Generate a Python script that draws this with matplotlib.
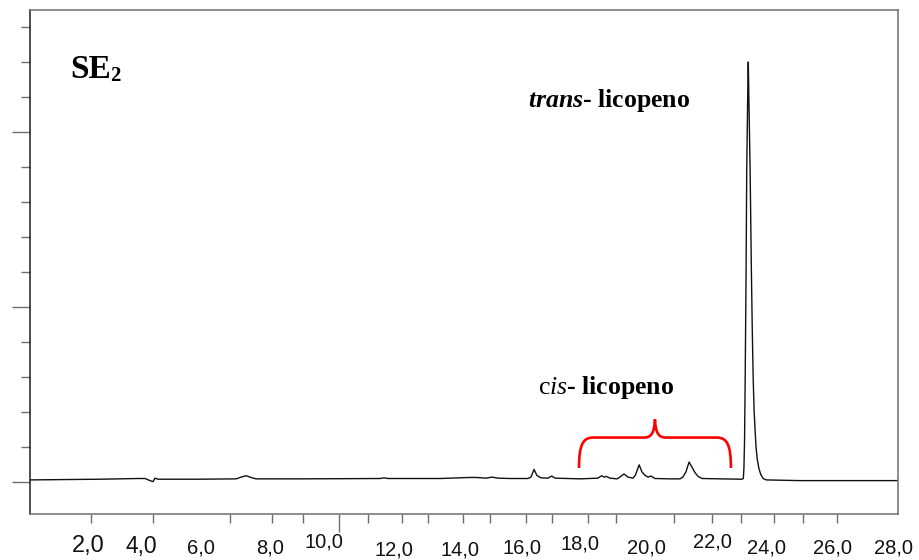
import matplotlib
matplotlib.use("Agg")
import matplotlib.pyplot as plt
from matplotlib.path import Path
from matplotlib.patches import PathPatch

plt.rcParams["mathtext.fontset"] = "custom"
plt.rcParams["mathtext.rm"] = "Liberation Serif"
plt.rcParams["mathtext.it"] = "Liberation Serif:italic"
plt.rcParams["mathtext.bf"] = "Liberation Serif:bold"
plt.rcParams["mathtext.bfit"] = "Liberation Serif:italic:bold"

# HPLC trace of extract SE2: retention time (min) and detector response
time_min = [
    0.00, 2.26, 3.48, 3.71, 3.87, 3.97, 4.03, 4.13, 5.48, 6.65, 6.81, 6.97,
    7.13, 7.29, 8.71, 11.29, 11.42, 11.55, 13.23, 14.19, 14.39, 14.71, 14.90,
    15.10, 15.48, 16.06, 16.16, 16.26, 16.35, 16.48, 16.71, 16.83, 16.94,
    17.74, 18.32, 18.44, 18.52, 18.60, 18.71, 18.94, 19.06, 19.16, 19.29,
    19.45, 19.53, 19.65, 19.74, 19.84, 19.94, 20.03, 20.16, 20.65, 20.97,
    21.06, 21.16, 21.26, 21.35, 21.45, 21.55, 21.68, 22.26, 22.97, 23.01,
    23.03, 23.05, 23.07, 23.10, 23.12, 23.15, 23.16, 23.17, 23.18, 23.19,
    23.23, 23.27, 23.30, 23.33, 23.36, 23.39, 23.42, 23.46, 23.51, 23.57,
    23.65, 23.75, 24.84, 28.00,
]
signal = [
    0.06, 0.08, 0.10, 0.10, 0.04, 0.01, 0.11, 0.08, 0.08, 0.09, 0.14, 0.18,
    0.13, 0.09, 0.09, 0.10, 0.12, 0.10, 0.10, 0.13, 0.13, 0.11, 0.14,
    0.11, 0.10, 0.10, 0.14, 0.36, 0.19, 0.12, 0.11, 0.17, 0.11,
    0.09, 0.11, 0.18, 0.14, 0.16, 0.11, 0.09, 0.16, 0.23, 0.14,
    0.11, 0.20, 0.49, 0.29, 0.19, 0.14, 0.17, 0.10, 0.09, 0.09,
    0.14, 0.29, 0.57, 0.43, 0.27, 0.16, 0.10, 0.09, 0.08, 0.10,
    0.40, 1.20, 2.91, 6.06, 8.91, 10.91, 11.49, 12.00, 11.49, 10.91,
    8.91, 6.06, 4.30, 2.91, 2.00, 1.49, 1.00, 0.65, 0.40, 0.22,
    0.10, 0.06, 0.04, 0.04,
]

# Axis ticks
tick_minutes = [1.97, 3.97, 6.45, 7.81, 8.81, 10.90, 12.0, 12.84, 13.97,
                14.84, 16.0, 16.84, 18.0, 18.90, 20.77, 22.0, 22.94, 24.0,
                24.94, 26.03]
major_tick_minutes = [9.97]
tick_labels = ["2,0", "4,0", "6,0", "8,0", "10,0", "12,0", "14,0", "16,0",
               "18,0", "20,0", "22,0", "24,0", "26,0", "28,0"]
y_minor = [1, 2, 3, 4, 6, 7, 8, 9, 11, 12, 13]
y_major = [0, 5, 10]

# Placement of the time labels under the axis
label_minutes = [1.87, 3.58, 5.52, 7.74, 9.48, 11.74, 13.87, 15.87, 17.74,
                 19.90, 22.00, 23.77, 25.90, 27.84]
label_drop_px = [38, 39, 39, 39, 33, 41, 41, 39, 36, 39, 34, 39, 39, 39]
label_size = [17, 16.5, 14.5, 14.5, 14.5, 14.5, 14.5, 14.5, 14.5, 14.5,
              14.5, 14.5, 14.5, 14.5]

fig = plt.figure(figsize=(9.2, 5.6), dpi=100)
ax = fig.add_axes([30 / 920, 46 / 560, 868 / 920, 504 / 560])

ax.plot(time_min, signal, color="#111111", lw=1.0, solid_joinstyle="round")

ax.set_xlim(0, 28)
ax.set_ylim(-0.914, 13.486)

ax.set_xticks(major_tick_minutes)
ax.set_xticks(tick_minutes, minor=True)
ax.set_yticks(y_major)
ax.set_yticks(y_minor, minor=True)
ax.tick_params(which="both", labelbottom=False, labelleft=False,
               color="#6e6e6e", width=1.0, direction="out")
ax.tick_params(which="major", length=13)
ax.tick_params(which="minor", length=6.5)

for side, spine in ax.spines.items():
    spine.set_linewidth(1.1)
    spine.set_color("#1e1e1e" if side == "left" else "#6e6e6e")

for lab, t, drop, size in zip(tick_labels, label_minutes, label_drop_px,
                              label_size):
    ax.annotate(lab, xy=(t, 0), xycoords=("data", "axes fraction"),
                xytext=(0, -drop), textcoords="offset pixels",
                ha="center", va="baseline", fontsize=size,
                family="Liberation Sans", color="#111111",
                annotation_clip=False)

# Sample name with subscript
ax.text(1.29, 11.54, "SE", fontsize=24, fontweight="bold",
        family="Liberation Serif", ha="left", va="baseline")
ax.text(2.58, 11.46, "2", fontsize=15, fontweight="bold",
        family="Liberation Serif", ha="left", va="baseline")

# Peak annotations
ax.text(16.06, 10.72, r"$\mathbfit{trans}$- licopeno", fontsize=18.5,
        fontweight="bold", family="Liberation Serif", ha="left",
        va="baseline")
ax.text(16.39, 2.51, r"$\mathrm{c}\mathit{is}$- licopeno", fontsize=18.5,
        fontweight="bold", family="Liberation Serif", ha="left",
        va="baseline")

# Curly brace grouping the cis isomer peaks
x0, x1 = 17.71, 22.61
xm = (x0 + x1) / 2
y_foot, y_bar, y_tip = 0.40, 1.27, 1.79
verts = [
    (x0, y_foot), (x0, 1.05), (x0 + 0.12, y_bar), (x0 + 0.45, y_bar),
    (xm - 0.35, y_bar),
    (xm - 0.12, y_bar), (xm - 0.02, 1.40), (xm, y_tip),
    (xm + 0.02, 1.40), (xm + 0.12, y_bar), (xm + 0.35, y_bar),
    (x1 - 0.45, y_bar),
    (x1 - 0.12, y_bar), (x1, 1.05), (x1, y_foot),
]
codes = [Path.MOVETO, Path.CURVE4, Path.CURVE4, Path.CURVE4,
         Path.LINETO,
         Path.CURVE4, Path.CURVE4, Path.CURVE4,
         Path.CURVE4, Path.CURVE4, Path.CURVE4,
         Path.LINETO,
         Path.CURVE4, Path.CURVE4, Path.CURVE4]
ax.add_patch(PathPatch(Path(verts, codes), facecolor="none",
                       edgecolor="#ff0000", lw=1.9, capstyle="butt"))

fig.savefig("out.png", dpi=100)
